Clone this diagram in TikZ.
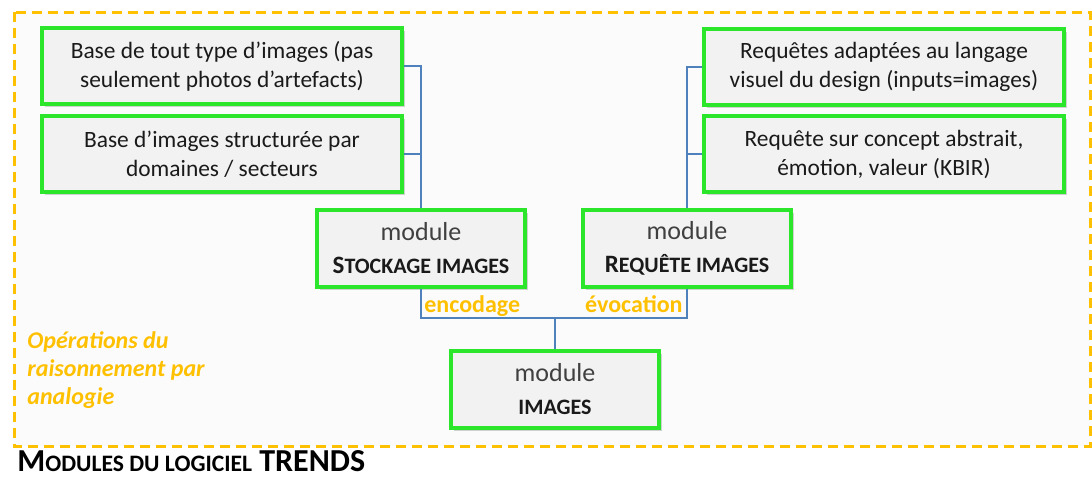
\documentclass[tikz,border=0pt]{standalone}
\usepackage{fontspec}
\setmainfont{Carlito}
\usetikzlibrary{shadows,positioning}
\definecolor{frame}{HTML}{FFC000}
\definecolor{boxgreen}{HTML}{2CE62C}
\definecolor{boxfill}{HTML}{F2F2F2}
\definecolor{linkblue}{HTML}{4F81BD}
\definecolor{ink}{HTML}{1A1A1A}
\definecolor{modgray}{HTML}{404040}
% small capitals, faked with two sizes of capitals
\newcommand\capsfirst[2]{{\fontsize{12.5}{15}\selectfont#1}{\fontsize{11}{15}\selectfont#2}}
\newcommand\modword{{\color{modgray}\fontsize{13}{16.5}\selectfont\mdseries module}}

\begin{document}
\begin{tikzpicture}[x=0.5pt,y=-0.5pt,
  every node/.style={inner sep=0pt,text=ink},
  part/.style={draw=boxgreen,line width=2pt,fill=boxfill,
    drop shadow={shadow xshift=1.5pt,shadow yshift=-1.5pt,opacity=.35},
    minimum width=180pt,minimum height=38pt,align=center,
    font=\fontsize{11.7}{14.5}\selectfont},
  modbox/.style={part,minimum width=104pt,minimum height=38.5pt,
    font=\bfseries\fontsize{13}{16.5}\selectfont},
  link/.style={draw=linkblue,line width=1.1pt},
  op/.style={text=frame,font=\bfseries\fontsize{12}{14}\selectfont}]
  \useasboundingbox (0,0) rectangle (1092,483);

  % frame of the reasoning operations
  \fill[gray!3] (14,12) rectangle (1090,446);
  \draw[frame,line width=1.5pt,dash pattern=on 5pt off 3pt]
    (14,12) rectangle (1090,446);

  % sources and queries
  \node[part] (base) at (222,66)
    {Base de tout type d’images (pas\\seulement photos d’artefacts)};
  \node[part] (secteurs) at (222,154)
    {Base d’images structurée par\\domaines / secteurs};
  \node[part] (langage) at (884,67)
    {Requêtes adaptées au langage\\visuel du design (inputs=images)};
  \node[part] (kbir) at (884,154)
    {Requête sur concept abstrait,\\émotion, valeur (KBIR)};

  % modules
  \node[modbox] (stockage) at (421,248)
    {\modword\\\capsfirst{S}{TOCKAGE IMAGES}};
  \node[modbox] (requete) at (687,248)
    {\modword\\\capsfirst{R}{EQUÊTE IMAGES}};
  \node[modbox] (images) at (555,389)
    {\modword\\\capsfirst{}{IMAGES}};

  \draw[link] (base.east) -| (stockage.north);
  \draw[link] (secteurs.east) -- (secteurs.east -| stockage.north);
  \draw[link] (langage.west) -| (requete.north);
  \draw[link] (kbir.west) -- (kbir.west -| requete.north);
  \coordinate (join) at (555,318);
  \draw[link] (stockage.south) |- (join) -| (requete.south);
  \draw[link] (join) -- (images.north);

  \node[op,anchor=base west] (encodage) at (424,312) {encodage};
  \node[op,anchor=base east] (evocation) at (683,312) {évocation};
  \node[op,font=\bfseries\itshape\fontsize{12}{14}\selectfont,
        anchor=north west,align=left] (analogie) at (27,331)
    {Opérations du\\raisonnement par\\analogie};

  \node[anchor=base west,text=black,font=\bfseries] (titre) at (17,471)
    {{\fontsize{16}{18}\selectfont M}{\fontsize{11.8}{18}\selectfont ODULES
     DU LOGICIEL}{\fontsize{16}{18}\selectfont\ TRENDS}};
\end{tikzpicture}
\end{document}
